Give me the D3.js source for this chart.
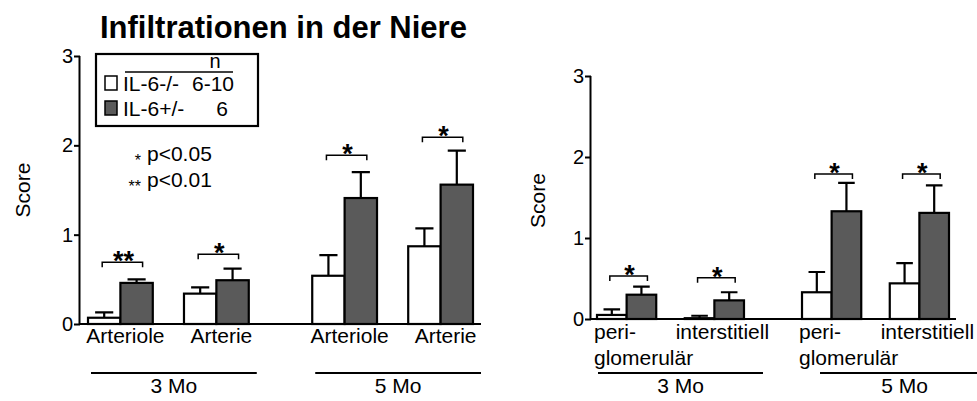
<!DOCTYPE html>
<html>
<head>
<meta charset="utf-8">
<script src="https://cdn.jsdelivr.net/npm/d3@7"></script>
<style>
    body { margin: 0; background: #fff; }
    svg { display: block; font-family: "Liberation Sans", Arial, sans-serif; }
</style>
</head>
<body>
<div id="chart"></div>
<script>

// ---- data ----
const title = "Infiltrationen in der Niere";
const seriesNames = ["IL-6-/-", "IL-6+/-"];
const seriesN = ["6-10", "6"];
const ages = ["3 Mo", "5 Mo"];
const yTicks = [0, 1, 2, 3];
const sigMarks = ["*", "**"];
const sigLabels = ["p<0.05", "p<0.01"];

// left panel: vessels
const vesselCategories = ["Arteriole", "Arterie"];
const vesselKoMean = [0.07, 0.34, 0.54, 0.87];     // 3Mo Arteriole, 3Mo Arterie, 5Mo Arteriole, 5Mo Arterie
const vesselKoSem = [0.06, 0.07, 0.23, 0.20];
const vesselHetMean = [0.46, 0.49, 1.41, 1.56];
const vesselHetSem = [0.04, 0.13, 0.29, 0.38];
const vesselSig = ["**", "*", "*", "*"];
const vesselSigLevel = [0.69, 0.78, 1.89, 2.09];

// right panel: regions
const regionCategories = ["peri-\nglomerulär", "interstitiell"];
const regionKoMean = [0.05, 0.01, 0.33, 0.44];
const regionKoSem = [0.07, 0.03, 0.25, 0.25];
const regionHetMean = [0.30, 0.23, 1.33, 1.31];
const regionHetSem = [0.10, 0.10, 0.35, 0.34];
const regionSig = ["*", "*", "*", "*"];
const regionSigLevel = [0.53, 0.51, 1.79, 1.79];

const fills = ["#ffffff", "#5a5a5a"];

const svg = d3.select("#chart").append("svg")
    .attr("width", 977)
    .attr("height", 401);

svg.append("text")
    .attr("x", 100)
    .attr("y", 38)
    .attr("font-size", 31)
    .attr("font-weight", "bold")
    .text(title);

// build rows for one panel from the arrays
function makeRows(categories, koMean, koSem, hetMean, hetSem, sig, sigLevel) {
    let rows = [];
    ages.forEach((age, a) => {
        categories.forEach((cat, c) => {
            let i = a * categories.length + c;
            rows.push({
                age: age, cat: cat,
                values: [{s: 0, mean: koMean[i], sem: koSem[i]}, {s: 1, mean: hetMean[i], sem: hetSem[i]}],
                sig: sig[i], sigLevel: sigLevel[i]
            });
        });
    });
    return rows;
}

function drawPanel(cfg, rows) {
    let g = svg.append("g");

    let y = d3.scaleLinear().domain([0, 3]).range([cfg.y0, cfg.yTop]);
    let xAge = d3.scaleBand().domain(ages).range(cfg.xRange).paddingInner(0.283).paddingOuter(0);
    let xCat = d3.scaleBand().domain(cfg.categories).range([0, xAge.bandwidth()]).paddingInner(0.325).paddingOuter(0);
    let xSer = d3.scaleBand().domain([0, 1]).range([0, xCat.bandwidth()]);
    let bw = xSer.bandwidth();

    // y axis
    let yAxis = g.append("g")
        .attr("transform", `translate(${cfg.axisX},0)`)
        .call(d3.axisLeft(y).tickValues(yTicks).tickSize(6).tickPadding(1).tickFormat(d3.format("d")));
    yAxis.select(".domain").attr("stroke-width", 2).attr("d", `M-0.5,${cfg.yTop}V${cfg.y0}`);
    yAxis.selectAll(".tick line").attr("stroke-width", 2);
    yAxis.selectAll(".tick text").attr("font-size", 20).attr("font-family", "Liberation Sans, Arial, sans-serif").attr("fill", "#000");

    g.append("text")
        .attr("transform", `translate(${cfg.scoreX},${(cfg.y0 + cfg.yTop) / 2 + cfg.scoreShift}) rotate(-90)`)
        .attr("text-anchor", "middle")
        .attr("font-size", 21)
        .text("Score");

    let groups = g.selectAll(".grp")
        .data(rows)
        .enter()
        .append("g")
        .attr("class", "grp")
        .attr("transform", d => `translate(${xAge(d.age) + xCat(d.cat)},0)`);

    // error bars
    groups.selectAll(".err")
        .data(d => d.values)
        .enter()
        .append("path")
        .attr("fill", "none")
        .attr("stroke", "#000")
        .attr("stroke-width", 2.2)
        .attr("d", v => {
            let cx = xSer(v.s) + bw / 2;
            let top = y(v.mean + v.sem);
            return `M${cx},${y(v.mean)}V${top}M${cx - bw * 0.28},${top}H${cx + bw * 0.28}`;
        });

    // bars
    groups.selectAll(".bar")
        .data(d => d.values)
        .enter()
        .append("rect")
        .attr("x", v => xSer(v.s))
        .attr("y", v => y(v.mean))
        .attr("width", bw)
        .attr("height", v => y(0) - y(v.mean))
        .attr("fill", v => fills[v.s])
        .attr("stroke", "#000")
        .attr("stroke-width", 2.2);

    // significance brackets
    groups.append("path")
        .attr("fill", "none")
        .attr("stroke", "#000")
        .attr("stroke-width", 1.5)
        .attr("d", d => {
            let x1 = bw * 0.5 - 2, x2 = bw * 1.5 + 6, yy = y(d.sigLevel);
            return `M${x1},${yy + 5}V${yy}H${x2}V${yy + 5}`;
        });

    groups.append("text")
        .attr("x", bw + 3)
        .attr("y", d => y(d.sigLevel) + 8)
        .attr("text-anchor", "middle")
        .attr("font-size", 27)
        .attr("font-weight", "bold")
        .text(d => d.sig);

    // baseline
    g.append("line")
        .attr("x1", cfg.axisX - 1)
        .attr("x2", cfg.baseEnd)
        .attr("y1", y(0))
        .attr("y2", y(0))
        .attr("stroke", "#000")
        .attr("stroke-width", 2.2);

    // category labels
    groups.each(function (d) {
        let lines = d.cat.split("\n");
        let t = d3.select(this).append("text")
            .attr("font-size", 21)
            .attr("y", cfg.catY);
        if (lines.length > 1) {
            t.attr("text-anchor", "start").attr("x", -3);
        } else {
            t.attr("text-anchor", "middle").attr("x", xCat.bandwidth() / 2 + cfg.catShift);
        }
        lines.forEach((ln, k) => {
            t.append("tspan")
                .attr("x", t.attr("x"))
                .attr("dy", k === 0 ? 0 : cfg.lineGap)
                .text(ln);
        });
    });

    // age group lines
    ages.forEach((age, a) => {
        let x0 = xAge(age) + cfg.ageLine[a][0];
        let x1 = xAge(age) + xAge.bandwidth() + cfg.ageLine[a][1];
        g.append("line")
            .attr("x1", x0).attr("x2", x1)
            .attr("y1", 373).attr("y2", 373)
            .attr("stroke", "#000")
            .attr("stroke-width", 2.2);
        g.append("text")
            .attr("x", (x0 + x1) / 2)
            .attr("y", 393)
            .attr("text-anchor", "middle")
            .attr("font-size", 21)
            .text(age);
    });

    return g;
}

let left = drawPanel({
    categories: vesselCategories, y0: 324, yTop: 56, axisX: 80, xRange: [88, 473], baseEnd: 481,
    scoreX: 30, scoreShift: 0, catY: 343, catShift: 5, lineGap: 0, ageLine: [[3, 8], [3, 8]]
}, makeRows(vesselCategories, vesselKoMean, vesselKoSem, vesselHetMean, vesselHetSem, vesselSig, vesselSigLevel));

drawPanel({
    categories: regionCategories, y0: 319, yTop: 76, axisX: 591, xRange: [597, 949], baseEnd: 956,
    scoreX: 545, scoreShift: 3, catY: 339, catShift: 8, lineGap: 26, ageLine: [[1, 19], [18, 40]]
}, makeRows(regionCategories, regionKoMean, regionKoSem, regionHetMean, regionHetSem, regionSig, regionSigLevel));

// legend box
let legend = left.append("g");
legend.append("rect")
    .attr("x", 96).attr("y", 54)
    .attr("width", 162).attr("height", 72)
    .attr("fill", "#fff")
    .attr("stroke", "#000")
    .attr("stroke-width", 2.2);
legend.append("text")
    .attr("x", 215).attr("y", 68)
    .attr("text-anchor", "middle")
    .attr("font-size", 20)
    .text("n");
legend.append("line")
    .attr("x1", 125).attr("x2", 233)
    .attr("y1", 72).attr("y2", 72)
    .attr("stroke", "#000")
    .attr("stroke-width", 1.5);

let legRow = d3.scaleBand().domain(seriesNames).range([74, 124]);
seriesNames.forEach((name, i) => {
    let ry = legRow(name);
    legend.append("rect")
        .attr("x", 105).attr("y", ry + 2)
        .attr("width", 12).attr("height", 14)
        .attr("fill", fills[i])
        .attr("stroke", "#000")
        .attr("stroke-width", 1.5);
    legend.append("text")
        .attr("x", 123).attr("y", ry + 17)
        .attr("font-size", 21)
        .text(name);
    legend.append("text")
        .attr("x", i === 0 ? 234 : 228).attr("y", ry + 17)
        .attr("text-anchor", "end")
        .attr("font-size", 21)
        .text(seriesN[i]);
});

// p value key
sigMarks.forEach((m, i) => {
    left.append("text")
        .attr("x", 141).attr("y", 166 + i * 26)
        .attr("text-anchor", "end")
        .attr("font-size", 16)
        .text(m);
    left.append("text")
        .attr("x", 147).attr("y", 161 + i * 26)
        .attr("font-size", 21)
        .text(sigLabels[i]);
});

</script>
</body>
</html>
